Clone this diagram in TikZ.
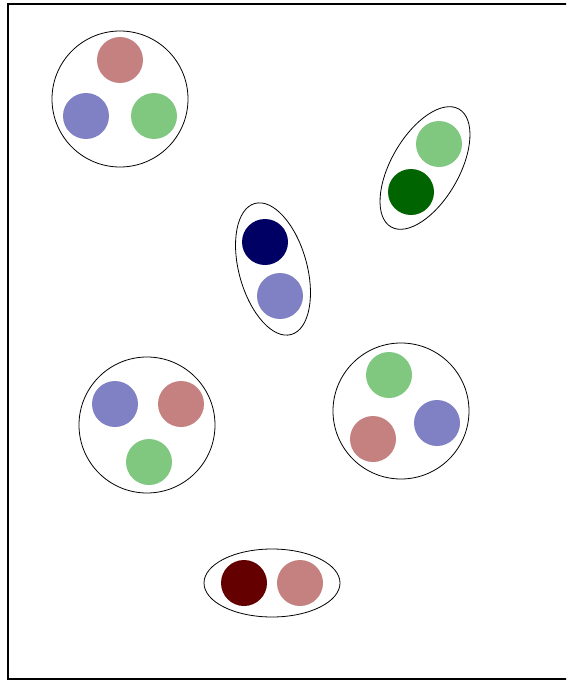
\documentclass[tikz,border=0pt]{standalone}
\usetikzlibrary{shapes.geometric}
\definecolor{lred}{RGB}{197,128,128}
\definecolor{lblue}{RGB}{128,128,197}
\definecolor{lgreen}{RGB}{128,200,128}
\definecolor{dred}{RGB}{100,0,0}
\definecolor{dblue}{RGB}{0,0,100}
\definecolor{dgreen}{RGB}{0,100,0}
\begin{document}
\begin{tikzpicture}[x=1pt, y=-1pt,
  dot/.style={circle, minimum size=46pt, inner sep=0pt, outer sep=0pt},
  ring/.style={draw=black, line width=0.8pt, circle, minimum size=136pt, inner sep=0pt},
  pod/.style={draw=black, line width=0.8pt, ellipse, minimum width=136pt, minimum height=68pt, inner sep=0pt}]
  \clip (0,0) rectangle (566,680);
  \draw[line width=1.6pt] (8,4) rectangle (600,679);
  % groups
  \node[ring] (ringA) at (120,99) {};
  \node[ring] (ringB) at (147,425) {};
  \node[ring] (ringC) at (401,411) {};
  \node[pod, rotate=60] (podA) at (425,168) {};
  \node[pod, rotate=-74.5] (podB) at (273,269) {};
  \node[pod] (podC) at (272,583) {};
  % members
  \foreach \nm/\px/\py/\cl in {
    ra1/120/60/lred, ra2/86/116/lblue, ra3/154/116/lgreen,
    rb1/115/404/lblue, rb2/181/404/lred, rb3/149/462/lgreen,
    rc1/389/375/lgreen, rc2/437/423/lblue, rc3/373/439/lred,
    pa1/439/144/lgreen, pa2/411/192/dgreen,
    pb1/265/242/dblue, pb2/280/296/lblue,
    pc1/244/583/dred, pc2/300/583/lred}
  {
    \node[dot, fill=\cl] (\nm) at (\px,\py) {};
  }
\end{tikzpicture}
\end{document}
